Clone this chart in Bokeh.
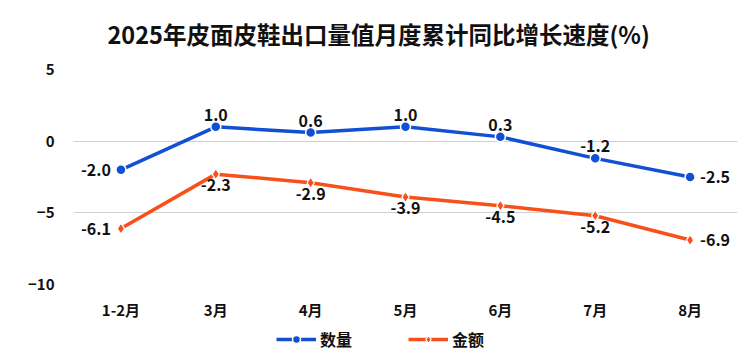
from bokeh.plotting import figure
from bokeh.models import (ColumnDataSource, FactorRange, Range1d, FixedTicker, LabelSet,
                          Legend, LegendItem)
from bokeh.layouts import column
from bokeh.core.properties import value
from bokeh.embed import file_html
from bokeh.resources import INLINE

categories = ["1-2月", "3月", "4月", "5月", "6月", "7月", "8月"]
qty = [-2.0, 1.0, 0.6, 1.0, 0.3, -1.2, -2.5]       # 数量
amt = [-6.1, -2.3, -2.9, -3.9, -4.5, -5.2, -6.9]   # 金额
y_ticks = [-10, -5, 0, 5]
title_text = "2025年皮面皮鞋出口量值月度累计同比增长速度(%)"
series_names = ["数量", "金额"]

FONT = "Noto Sans CJK SC"
BLUE = "#1150D2"
ORANGE = "#F8501A"
TXT = "#111111"

p = figure(width=750, height=322, x_range=FactorRange(*categories, range_padding=0),
           y_range=Range1d(-10, 5), output_backend="svg", toolbar_location=None,
           min_border_left=73, min_border_right=13, min_border_top=69, min_border_bottom=38)
p.outline_line_color = None
p.background_fill_color = "white"
p.border_fill_color = "white"

p.title.text = title_text
p.title.text_font = FONT
p.title.text_font_size = "23.5px"
p.title.text_font_style = "bold"
p.title.text_color = TXT
p.title.align = "left"
p.title.offset = 34
p.title.vertical_align = "top"
p.title.standoff = 33

p.xgrid.grid_line_color = None
p.yaxis.ticker = FixedTicker(ticks=y_ticks)
p.ygrid.ticker = FixedTicker(ticks=y_ticks)
p.ygrid.grid_line_color = "#d0d0d0"
p.ygrid.grid_line_width = 1
for ax in (p.xaxis, p.yaxis):
    ax.axis_line_color = None
    ax.major_tick_line_color = None
    ax.minor_tick_line_color = None
    ax.major_label_text_font = FONT
    ax.major_label_text_font_style = "bold"
    ax.major_label_text_color = TXT
p.xaxis.major_label_text_font_size = "15px"
p.yaxis.major_label_text_font_size = "15px"
p.yaxis.major_label_standoff = 13
p.xaxis.major_label_standoff = 8

n = len(categories)

def make_src(vals, above):
    xo, yo, al, bl = [], [], [], []
    for i in range(n):
        if i == 0:
            xo.append(-10); yo.append(0); al.append("right"); bl.append("middle")
        elif i == n - 1:
            xo.append(10); yo.append(0); al.append("left"); bl.append("middle")
        else:
            xo.append(0); yo.append(6 if above else -5); al.append("center")
            bl.append("bottom" if above else "top")
    return ColumnDataSource(dict(x=categories, y=vals, t=[f"{v:.1f}" for v in vals],
                                 xo=xo, yo=yo, al=al, bl=bl))

src_q = make_src(qty, True)
src_a = make_src(amt, False)

LINE_W = 3.5
STYLE_Q = dict(marker="circle", size=10, fill_color=BLUE, line_color="white", line_width=1.5)
STYLE_A = dict(marker="diamond", size=11, fill_color=ORANGE, line_color="white", line_width=1.2)

p.line("x", "y", source=src_q, line_color=BLUE, line_width=LINE_W)
p.scatter("x", "y", source=src_q, **STYLE_Q)
p.line("x", "y", source=src_a, line_color=ORANGE, line_width=LINE_W)
p.scatter("x", "y", source=src_a, **STYLE_A)

for src in (src_q, src_a):
    p.add_layout(LabelSet(x="x", y="y", text="t", source=src, x_offset="xo", y_offset="yo",
                          text_align="al", text_baseline="bl", text_font=value(FONT),
                          text_font_size="16px", text_font_style="bold", text_color=TXT))

# legend strip (its renderers carry the same series but stay hidden)
lg = figure(width=750, height=35, x_range=Range1d(0, 1), y_range=Range1d(0, 1),
            x_axis_type=None, y_axis_type=None, output_backend="svg", toolbar_location=None,
            min_border=0, min_border_left=0, min_border_right=0, min_border_top=0,
            min_border_bottom=0)
lg.outline_line_color = None
lg.grid.visible = False
idx = list(range(n))
lsrc_q = ColumnDataSource(dict(x=idx, y=qty))
lsrc_a = ColumnDataSource(dict(x=idx, y=amt))
gq1 = lg.line("x", "y", source=lsrc_q, line_color=BLUE, line_width=LINE_W, visible=False)
gq2 = lg.scatter("x", "y", source=lsrc_q, visible=False, **STYLE_Q)
ga1 = lg.line("x", "y", source=lsrc_a, line_color=ORANGE, line_width=LINE_W, visible=False)
ga2 = lg.scatter("x", "y", source=lsrc_a, visible=False, **STYLE_A)
legend = Legend(items=[LegendItem(label=series_names[0], renderers=[gq1, gq2]),
                       LegendItem(label=series_names[1], renderers=[ga1, ga2])],
                orientation="horizontal", location=(203, 6),
                label_text_font=FONT, label_text_font_size="16px", label_text_font_style="bold",
                label_text_color=TXT, glyph_width=40, glyph_height=20, label_standoff=4,
                label_width=82, spacing=6, padding=0, margin=0, border_line_color=None,
                background_fill_alpha=0, inactive_fill_alpha=0)
lg.add_layout(legend, "center")

layout = column(p, lg, spacing=0)
open("out.html", "w").write(file_html(layout, INLINE))
